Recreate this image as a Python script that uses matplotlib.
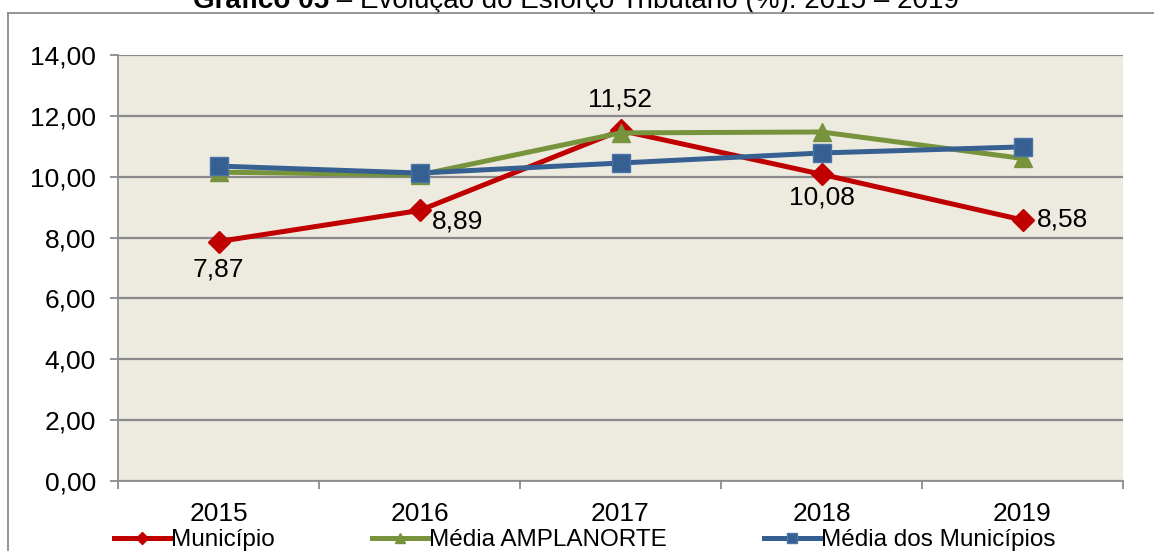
import matplotlib
matplotlib.use("Agg")
import matplotlib.pyplot as plt
from matplotlib.lines import Line2D

plt.rcParams['font.family'] = ['Liberation Sans', 'DejaVu Sans']

years = ['2015', '2016', '2017', '2018', '2019']
municipio = [7.87, 8.89, 11.52, 10.08, 8.58]
amplanorte = [10.15, 10.06, 11.44, 11.47, 10.60]
media_municipios = [10.35, 10.12, 10.45, 10.78, 10.98]
yticks = [0, 2, 4, 6, 8, 10, 12, 14]
ytick_labels = ['0,00', '2,00', '4,00', '6,00', '8,00', '10,00', '12,00', '14,00']
label_texts = ['7,87', '8,89', '11,52', '10,08', '8,58']

W, H = 1154, 551
fig = plt.figure(figsize=(W / 100, H / 100), dpi=100)
fig.patch.set_facecolor('white')

# outer frame (left and top lines visible, rest cropped)
fig.add_artist(Line2D([8 / W, 8 / W], [0, 1 - 13 / H], transform=fig.transFigure,
                      color='#8c8c8c', lw=1.3))
fig.add_artist(Line2D([8 / W, 1], [1 - 13 / H, 1 - 13 / H], transform=fig.transFigure,
                      color='#8c8c8c', lw=1.3))

ax = fig.add_axes([118 / W, 1 - 481 / H, (1123 - 118) / W, (481 - 55) / H])

# title (partly cropped at top)
t1 = fig.text(193 / W, 1 - 8 / H, 'Gráfico 05', fontsize=20, fontweight='bold',
              ha='left', va='baseline')
ax.annotate(' – Evolução do Esforço Tributário (%): 2015 – 2019', xy=(1, 0),
            xycoords=t1, fontsize=20, ha='left', va='bottom',
            annotation_clip=False)

ax.set_facecolor('#EDEBE0')
x = list(range(len(years)))

ax.set_xlim(-0.5, 4.5)
ax.set_ylim(0, 14)
ax.set_yticks(yticks)
ax.set_yticklabels(ytick_labels, fontsize=19)
ax.set_xticks(x)
ax.set_xticklabels(years, fontsize=19)
ax.set_xticks([-0.5, 0.5, 1.5, 2.5, 3.5, 4.5], minor=True)
ax.tick_params(axis='x', which='major', length=0, pad=15)
ax.tick_params(axis='x', which='minor', length=6, color='#8c8c8c', width=1.3)
ax.tick_params(axis='y', which='major', length=6, color='#8c8c8c', width=1.3, pad=10)
ax.yaxis.grid(True, color='#8a8a8a', lw=1.6)
ax.set_axisbelow(True)
for s in ['top', 'right']:
    ax.spines[s].set_visible(False)
for s in ['left', 'bottom']:
    ax.spines[s].set_color('#8c8c8c')
    ax.spines[s].set_linewidth(1.3)

l1, = ax.plot(x, municipio, color='#C00000', lw=3.6, marker='D', ms=11,
              markeredgecolor='#C00000', label='Município', zorder=3)
l2, = ax.plot(x, amplanorte, color='#77933C', lw=3.6, marker='^', ms=13,
              markeredgecolor='#77933C', label='Média AMPLANORTE', zorder=4)
l3, = ax.plot(x, media_municipios, color='#376092', lw=3.6, marker='s', ms=13,
              markeredgecolor='#4a74a8', label='Média dos Municípios', zorder=5)

# data labels for Município
offsets = [(0, -20, 'center', 'center'), (9, -8, 'left', 'center'),
           (0, 22, 'center', 'center'), (0, -17, 'center', 'center'),
           (10, 0, 'left', 'center')]
for xi, v, txt, (dx, dy, ha, va) in zip(x, municipio, label_texts, offsets):
    ax.annotate(txt, (xi, v), xytext=(dx, dy), textcoords='offset points',
                fontsize=19, ha=ha, va=va, zorder=6)

leg = fig.legend(handles=[l1, l2, l3], loc='center', bbox_to_anchor=(585 / W, 1 - 540 / H),
                 ncol=3, frameon=False, fontsize=17.5, handlelength=2.3,
                 handletextpad=0.05, columnspacing=4.0, markerscale=0.6,
                 borderpad=0, borderaxespad=0)

fig.savefig('out.png', dpi=100)
